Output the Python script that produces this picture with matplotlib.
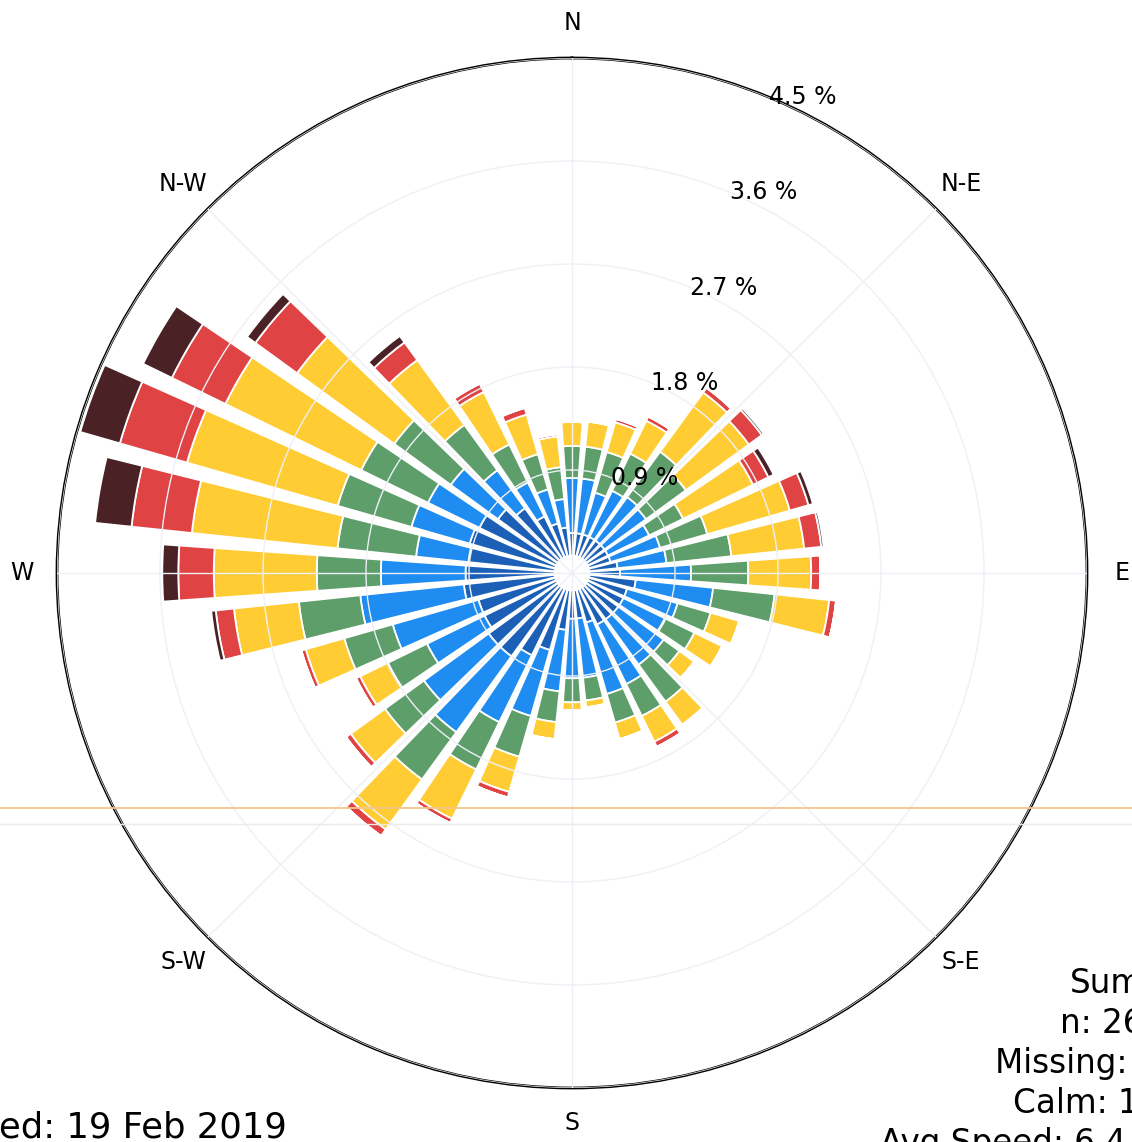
import numpy as np
import matplotlib
matplotlib.use("Agg")
import matplotlib.pyplot as plt
from matplotlib.lines import Line2D

# ---------------- data (percent frequency per direction and speed bin) -------------
directions = list(range(0, 360, 10))
dir_labels = ["N", "N-E", "E", "S-E", "S", "S-W", "W", "N-W"]
dir_label_angles = [0, 45, 90, 135, 180, 225, 270, 315]
radii = [0.9, 1.8, 2.7, 3.6, 4.5]

freq_bin0 = [0.35, 0.35, 0.35, 0.35, 0.35, 0.35, 0.35, 0.35, 0.40, 0.42, 0.56, 0.50,
             0.50, 0.50, 0.50, 0.50, 0.45, 0.40, 0.40, 0.50, 0.70, 0.80, 0.90, 0.90,
             0.85, 0.85, 0.95, 0.93, 0.91, 0.93, 0.90, 0.80, 0.70, 0.55, 0.45, 0.40]
freq_bin1 = [0.48, 0.48, 0.38, 0.45, 0.47, 0.45, 0.40, 0.45, 0.43, 0.62, 0.68, 0.46,
             0.41, 0.49, 0.49, 0.58, 0.65, 0.52, 0.52, 0.54, 0.60, 0.65, 0.82, 0.70,
             0.56, 0.78, 0.91, 0.74, 0.46, 0.53, 0.50, 0.51, 0.41, 0.33, 0.31, 0.25]
freq_bin2 = [0.28, 0.28, 0.37, 0.36, 0.49, 0.43, 0.33, 0.43, 0.57, 0.50, 0.54, 0.30,
             0.28, 0.17, 0.40, 0.31, 0.26, 0.20, 0.21, 0.27, 0.37, 0.46, 0.51, 0.42,
             0.38, 0.44, 0.54, 0.56, 0.69, 0.67, 0.65, 0.61, 0.49, 0.37, 0.32, 0.28]
freq_bin3 = [0.21, 0.22, 0.27, 0.32, 0.64, 0.68, 0.68, 0.75, 0.64, 0.55, 0.48, 0.26,
             0.27, 0.16, 0.25, 0.25, 0.15, 0.06, 0.07, 0.15, 0.32, 0.48, 0.54, 0.37,
             0.27, 0.35, 0.57, 0.90, 1.28, 1.37, 1.32, 1.05, 0.70, 0.51, 0.36, 0.27]
freq_bin4 = [0.00, 0.00, 0.03, 0.04, 0.05, 0.14, 0.15, 0.17, 0.15, 0.08, 0.06, 0.00,
             0.00, 0.00, 0.00, 0.05, 0.00, 0.00, 0.00, 0.00, 0.05, 0.04, 0.07, 0.05,
             0.04, 0.04, 0.16, 0.31, 0.53, 0.61, 0.52, 0.45, 0.19, 0.08, 0.06, 0.02]
freq_bin5 = [0.00, 0.00, 0.00, 0.00, 0.00, 0.02, 0.05, 0.04, 0.02, 0.00, 0.00, 0.00,
             0.00, 0.00, 0.00, 0.00, 0.00, 0.00, 0.00, 0.00, 0.00, 0.00, 0.00, 0.00,
             0.00, 0.00, 0.04, 0.14, 0.32, 0.36, 0.28, 0.09, 0.07, 0.00, 0.00, 0.00]

series = [freq_bin0, freq_bin1, freq_bin2, freq_bin3, freq_bin4, freq_bin5]
colors = ["#1b5fb6", "#1e8cf0", "#5e9e6b", "#ffcc33", "#e04343", "#4a2226"]

summary_lines = ["Summary", "n: 262800", "Missing: 120", "Calm: 1.2 %", "Avg Speed: 6.4 m/s"]
summary_x = [1070, 1060, 995, 1013, 880]   # left edge of each line (px)
footer_text = "Generated: 19 Feb 2019"

# ---------------- figure ----------------
W, H = 1132, 1142
fig = plt.figure(figsize=(W / 100, H / 100), dpi=100)
cx, cy, R = 572, 573, 515
ax = fig.add_axes([(cx - R) / W, (H - cy - R) / H, 2 * R / W, 2 * R / H],
                  projection="polar")
ax.set_theta_zero_location("N")
ax.set_theta_direction(-1)

theta = np.deg2rad(directions)
width = np.deg2rad(8)
bottom = np.zeros(len(directions))
for vals, c in zip(series, colors):
    vals = np.asarray(vals)
    assert len(vals) == len(directions)
    ax.bar(theta, vals, width=width, bottom=bottom, color=c,
           edgecolor="white", linewidth=1.3, zorder=2)
    bottom = bottom + vals

# white centre
ax.bar(0, 0.16, width=2 * np.pi, bottom=0, color="white", edgecolor="none", zorder=2.2)

ax.set_ylim(0, 4.5)
ax.set_yticks(radii)
ax.set_yticklabels([])
ax.set_xticks(np.deg2rad(dir_label_angles))
ax.set_xticklabels([])
ax.set_axisbelow(False)
ax.grid(True, color="#eef0f6", linewidth=1.0)
ax.spines["polar"].set_color("black")
ax.spines["polar"].set_linewidth(2.0)

r_lab = 4.5 * 550 / 515
for lab, ang in zip(dir_labels, dir_label_angles):
    ax.text(np.deg2rad(ang), r_lab, lab, ha="center", va="center",
            fontsize=17, color="black", clip_on=False)

for r in radii:
    ax.text(np.deg2rad(22.5), r, f"{r:.1f} %", ha="left", va="center",
            fontsize=17, color="black", zorder=5)

# summary block (cut by the right edge, as in the reference)
base_y = 993
for i, (line, x0) in enumerate(zip(summary_lines, summary_x)):
    fig.text(x0 / W, 1 - (base_y + 40 * i) / H, line, ha="left",
             va="baseline", fontsize=23.5, color="black")

fig.text(287 / W, 1 - 1138 / H, footer_text, ha="right", va="baseline",
         fontsize=25.5, color="black")

# faint scan lines
fig.add_artist(Line2D([0, 1], [1 - 808 / H, 1 - 808 / H], transform=fig.transFigure,
                      color="#f6c48c", linewidth=1.3))
fig.add_artist(Line2D([0, 1], [1 - 824 / H, 1 - 824 / H], transform=fig.transFigure,
                      color="#eeeae6", linewidth=1.0))

fig.savefig("out.png", dpi=100, facecolor="white")
